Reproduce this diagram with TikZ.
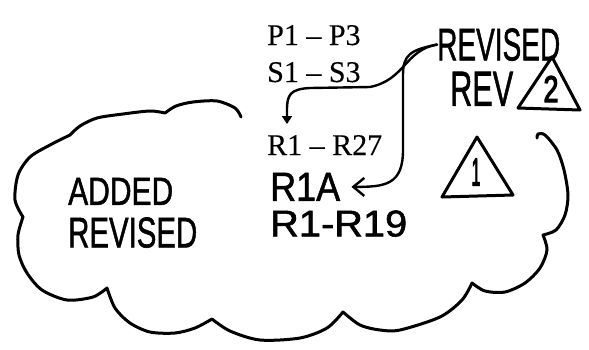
\documentclass[tikz,border=0pt]{standalone}
\usepackage{fontspec}
\setmainfont[FakeBold=0.3]{Liberation Serif}
\newfontfamily\handfont[FakeBold=1.4]{Liberation Sans}
\newfontfamily\handheavy[FakeBold=3.5]{Liberation Sans}
\usetikzlibrary{arrows.meta}
\begin{document}
\begin{tikzpicture}[x=1pt,y=-1pt,
  ink/.style={line width=3pt, line cap=round, line join=round},
  typed/.style={font=\fontsize{30}{32}\selectfont, inner sep=0pt, anchor=base west},
  hand/.style={font=\handfont, inner sep=0pt, anchor=south west},
  digit/.style={font=\handheavy, inner sep=0pt, anchor=center},
  conn/.style={line width=2.4pt, line cap=round, line join=round}]
\useasboundingbox (0,0) rectangle (589,349);

% typed reference lists
\node[typed] (p13) at (267,45) {P1 -- P3};
\node[typed] (s13) at (267,82) {S1 -- S3};
\node[typed] (r27) at (267,155) {R1 -- R27};

% handwritten notes
\node[hand] (r1a) at (270,201) {\resizebox{70pt}{28pt}{R1A}};
\node[hand] (r19) at (270,237) {\resizebox{137pt}{26pt}{R1-R19}};
\node[hand] (added) at (68,205) {\resizebox{105pt}{27pt}{ADDED}};
\node[hand] (revised) at (68,248) {\resizebox{129pt}{30pt}{REVISED}};
\node[hand] (revtop) at (437,61) {\resizebox{123pt}{32pt}{REVISED}};
\node[hand] (rev) at (450,106) {\resizebox{63pt}{34pt}{REV}};

% revision triangles
\draw[ink] (552,57) -- (518,108) -- (580,110) -- cycle;
\node[digit] (two) at (551,89) {\resizebox{15pt}{26pt}{2}};
\draw[ink] (477,137) -- (442,197) -- (513,195) -- cycle;
\node[digit] (one) at (476,172) {\resizebox{9pt}{27pt}{1}};

% revision cloud, open at the top
\draw[ink]
  plot[smooth] coordinates {(241,117) (235,108) (217,101) (193,102) (176,106) (165,113)}
  -- plot[smooth] coordinates {(165,113) (150,111) (123,114) (97,118) (80,126) (70,135)}
  -- plot[smooth] coordinates {(70,135) (50,145) (30,157) (18,175) (15,200) (23,217)}
  -- plot[smooth] coordinates {(23,217) (18,235) (19,255) (27,273) (42,290) (67,300) (93,297) (107,288)}
  -- plot[smooth] coordinates {(107,288) (115,308) (130,323) (150,332) (175,333) (195,328) (212,319)}
  -- plot[smooth] coordinates {(212,319) (230,331) (260,340) (300,338) (327,328) (343,312)}
  -- plot[smooth] coordinates {(343,312) (360,325) (380,330) (400,330) (440,317) (462,300) (472,283)}
  -- plot[smooth] coordinates {(472,283) (485,291) (505,292) (525,283) (540,268) (547,250) (543,235)}
  -- plot[smooth] coordinates {(543,235) (556,230) (565,215) (568,195) (564,170) (557,150) (545,135) (538,134) (537,138)};

% leaders from the revision note
\coordinate (tipB) at (287,124);
\draw[conn, -{Triangle[length=8pt,width=10pt]}]
  (revtop.west) .. controls (405,50) and (405,80) .. (370,87)
  -- (310,88) .. controls (290,89) and (287,95) .. (287,110) -- (tipB);
\draw[conn, -{Straight Barb[length=11pt,width=18pt]}, shorten >=11pt]
  (revtop.west) .. controls (410,50) and (403,55) .. (403,75)
  -- (403,150) .. controls (403,185) and (385,187) .. (r1a.east);
\end{tikzpicture}
\end{document}
